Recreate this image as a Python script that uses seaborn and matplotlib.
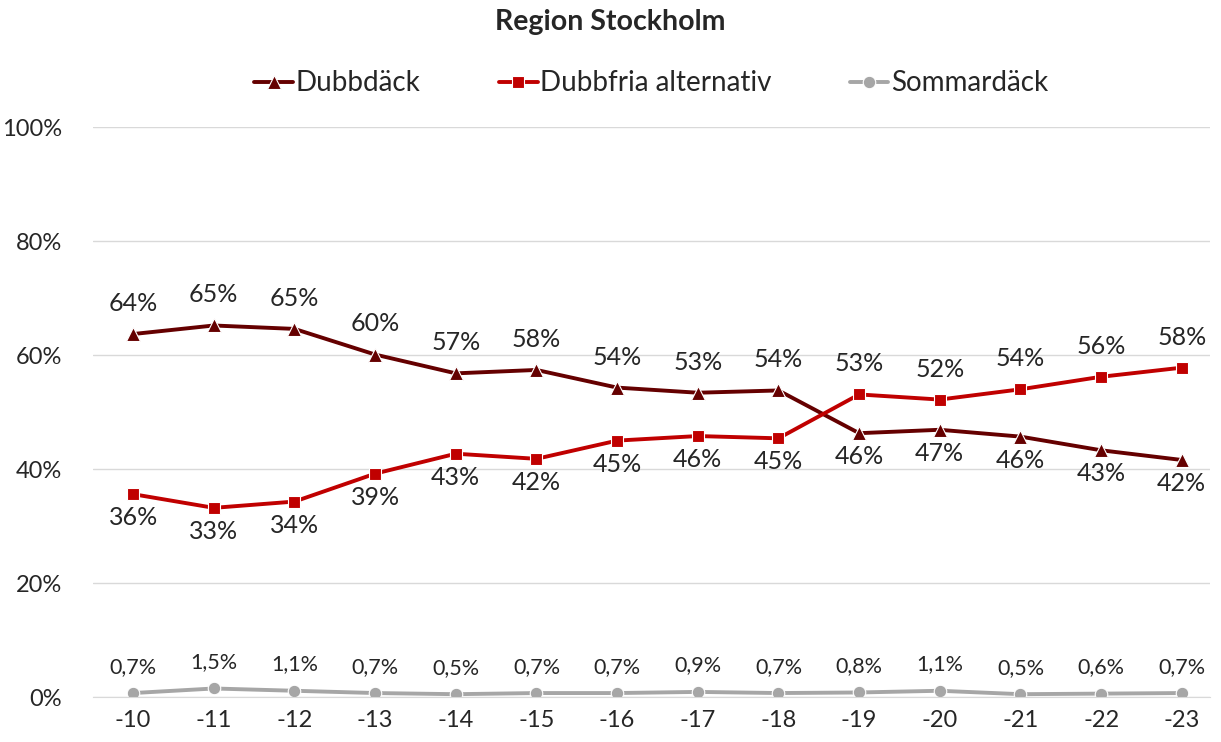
import pandas as pd
import seaborn as sns
import matplotlib.pyplot as plt

# data (percent)
years = ["-10", "-11", "-12", "-13", "-14", "-15", "-16", "-17", "-18", "-19", "-20", "-21", "-22", "-23"]
dubbdack = [63.7, 65.2, 64.6, 60.1, 56.8, 57.4, 54.3, 53.4, 53.8, 46.3, 46.9, 45.7, 43.3, 41.6]
dubbfria = [35.6, 33.2, 34.3, 39.2, 42.7, 41.8, 45.0, 45.8, 45.4, 53.1, 52.2, 54.0, 56.2, 57.8]
sommar = [0.7, 1.5, 1.1, 0.7, 0.5, 0.7, 0.7, 0.9, 0.7, 0.8, 1.1, 0.5, 0.6, 0.7]

dubb_labels = ["64%", "65%", "65%", "60%", "57%", "58%", "54%", "53%", "54%", "46%", "47%", "46%", "43%", "42%"]
fria_labels = ["36%", "33%", "34%", "39%", "43%", "42%", "45%", "46%", "45%", "53%", "52%", "54%", "56%", "58%"]
sommar_labels = ["0,7%", "1,5%", "1,1%", "0,7%", "0,5%", "0,7%", "0,7%", "0,9%", "0,7%", "0,8%", "1,1%", "0,5%", "0,6%", "0,7%"]


def main():
    sns.set_style("white")
    plt.rcParams["font.family"] = ["Lato", "DejaVu Sans"]

    fig = plt.figure(figsize=(12.21, 7.42), dpi=100)
    ax = fig.add_axes([0.076, 0.0606, 0.915, 0.768])

    x = list(range(len(years)))
    series = [
        ("Dubbdäck", dubbdack, "#650000", "^", 10),
        ("Dubbfria alternativ", dubbfria, "#C00000", "s", 9),
        ("Sommardäck", sommar, "#A6A6A6", "o", 9),
    ]
    for name, vals, col, mk, ms in series:
        df = pd.DataFrame({"x": x, "y": vals})
        sns.lineplot(data=df, x="x", y="y", ax=ax, color=col, linewidth=2.8,
                     marker=mk, markersize=ms, markeredgecolor="white",
                     markeredgewidth=0.8, label=name)

    # data labels
    for i in x:
        up_d = i < 9
        ax.annotate(dubb_labels[i], (i, dubbdack[i]), xytext=(0, 22 if up_d else -17),
                    textcoords="offset points", ha="center", va="center",
                    fontsize=18, color="#262626")
        ax.annotate(fria_labels[i], (i, dubbfria[i]), xytext=(0, -17 if up_d else 22),
                    textcoords="offset points", ha="center", va="center",
                    fontsize=18, color="#262626")
        ax.annotate(sommar_labels[i], (i, sommar[i]), xytext=(0, 19),
                    textcoords="offset points", ha="center", va="center",
                    fontsize=15.5, color="#262626")

    ax.set_ylim(0, 100)
    ax.set_xlim(-0.5, 13.35)
    ax.set_yticks([0, 20, 40, 60, 80, 100])
    ax.set_yticklabels(["0%", "20%", "40%", "60%", "80%", "100%"])
    ax.set_xticks(x)
    ax.set_xticklabels(years)
    ax.tick_params(axis="both", labelsize=17, colors="#262626", length=0)
    ax.tick_params(axis="y", pad=22)
    ax.tick_params(axis="x", pad=9)
    ax.set_xlabel("")
    ax.set_ylabel("")
    ax.grid(axis="y", color="#D9D9D9", linewidth=1)
    ax.set_axisbelow(True)
    for s in ["top", "right", "left"]:
        ax.spines[s].set_visible(False)
    ax.spines["bottom"].set_color("#D9D9D9")

    fig.suptitle("Region Stockholm", fontsize=20.5, fontweight="bold", y=0.988)
    ax.legend(loc="lower center", bbox_to_anchor=(0.5, 1.01), ncol=3, frameon=False,
              fontsize=20, handlelength=1.4, columnspacing=2.8, handletextpad=0.1)

    plt.savefig("out.png", dpi=100)


if __name__ == "__main__":
    main()
